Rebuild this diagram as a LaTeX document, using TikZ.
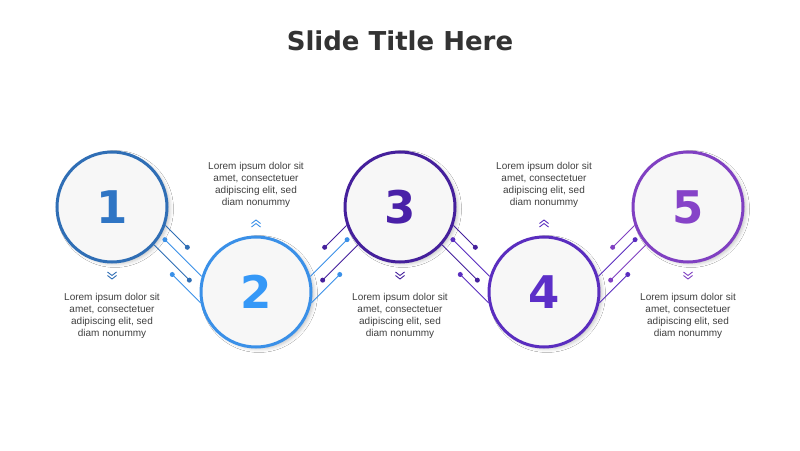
\documentclass[tikz,border=0pt]{standalone}
\usepackage{fontspec}
\setmainfont{Liberation Sans}
\newfontfamily\headfont{DejaVu Sans}
\usetikzlibrary{shadows.blur}

\definecolor{col1}{HTML}{2F6EB5}
\definecolor{col2}{HTML}{3A90E8}
\definecolor{col3}{HTML}{45209C}
\definecolor{col4}{HTML}{5A2DBF}
\definecolor{col5}{HTML}{8040C2}
\definecolor{num1}{HTML}{2F75C4}
\definecolor{num2}{HTML}{3598F7}
\definecolor{num3}{HTML}{4A21A8}
\definecolor{num4}{HTML}{5C2FC8}
\definecolor{num5}{HTML}{8643C8}
\definecolor{textgray}{HTML}{404040}
\definecolor{titlegray}{HTML}{333333}

\tikzset{
  stepcircle/.style={circle,minimum size=110pt,inner sep=0pt,line width=3pt,fill=black!3,
    font=\headfont\bfseries\fontsize{45}{45}\selectfont,
    blur shadow={shadow xshift=3pt,shadow yshift=-2pt,shadow blur radius=3.5pt,shadow opacity=22}},
  stepline/.style={line width=0.9pt},
  stepdot/.style={circle,fill,inner sep=0pt,minimum size=5pt},
  steptext/.style={align=center,text=textgray,font=\fontsize{10}{12}\selectfont},
  downchev/.pic={
    \draw[line width=0.9pt] (-4.5,3.5) -- (0,0) -- (4.5,3.5);
    \draw[line width=0.9pt] (-4.5,7) -- (0,3.5) -- (4.5,7);},
  upchev/.pic={
    \draw[line width=0.9pt] (-4.5,-3.5) -- (0,0) -- (4.5,-3.5);
    \draw[line width=0.9pt] (-4.5,-7) -- (0,-3.5) -- (4.5,-7);}
}

\begin{document}
\begin{tikzpicture}[x=1pt,y=1pt]
  \useasboundingbox[fill=white] (0,0) rectangle (800,450);

  \node[anchor=base,text=titlegray,font=\headfont\bfseries\fontsize{26}{30}\selectfont] (title) at (400,399) {Slide Title Here};

  % circles
  \node[stepcircle,draw=col1,text=num1] (c1) at (112,243) {1};
  \node[stepcircle,draw=col2,text=num2] (c2) at (256,158) {2};
  \node[stepcircle,draw=col3,text=num3] (c3) at (400,243) {3};
  \node[stepcircle,draw=col4,text=num4] (c4) at (544,158) {4};
  \node[stepcircle,draw=col5,text=num5] (c5) at (688,243) {5};

  % circuit lines 1-2
  \draw[stepline,col1] (c1.-19) -- ++(-45:31pt) node[stepdot] (d1a) {};
  \draw[stepline,col1] (c1.-42) -- ++(-45:50pt) node[stepdot] (d1b) {};
  \draw[stepline,col2] (c2.164) -- ++(135:52pt) node[stepdot] (d2a) {};
  \draw[stepline,col2] (c2.-169) -- ++(135:40pt) node[stepdot] (d2b) {};
  % circuit lines 2-3
  \draw[stepline,col3] (c3.199) -- ++(-135:31pt) node[stepdot] (d3a) {};
  \draw[stepline,col3] (c3.222) -- ++(-135:50pt) node[stepdot] (d3b) {};
  \draw[stepline,col2] (c2.16) -- ++(45:52pt) node[stepdot] (d2c) {};
  \draw[stepline,col2] (c2.-11) -- ++(45:40pt) node[stepdot] (d2d) {};
  % circuit lines 3-4
  \draw[stepline,col3] (c3.-19) -- ++(-45:31pt) node[stepdot] (d3c) {};
  \draw[stepline,col3] (c3.-42) -- ++(-45:50pt) node[stepdot] (d3d) {};
  \draw[stepline,col4] (c4.164) -- ++(135:52pt) node[stepdot] (d4a) {};
  \draw[stepline,col4] (c4.-169) -- ++(135:40pt) node[stepdot] (d4b) {};
  % circuit lines 4-5
  \draw[stepline,col5] (c5.199) -- ++(-135:31pt) node[stepdot] (d5a) {};
  \draw[stepline,col5] (c5.222) -- ++(-135:50pt) node[stepdot] (d5b) {};
  \draw[stepline,col4] (c4.16) -- ++(45:52pt) node[stepdot] (d4c) {};
  \draw[stepline,col4] (c4.-11) -- ++(45:40pt) node[stepdot] (d4d) {};

  % chevrons
  \pic[col1] at (112,171) {downchev};
  \pic[col2] at (256,230) {upchev};
  \pic[col3] at (400,171) {downchev};
  \pic[col4] at (544,230) {upchev};
  \pic[col5] at (688,171) {downchev};

  % texts
  \node[steptext] (t1) at (112,134.5) {Lorem ipsum dolor sit\\amet, consectetuer\\adipiscing elit, sed\\diam nonummy};
  \node[steptext] (t2) at (256,265.5) {Lorem ipsum dolor sit\\amet, consectetuer\\adipiscing elit, sed\\diam nonummy};
  \node[steptext] (t3) at (400,134.5) {Lorem ipsum dolor sit\\amet, consectetuer\\adipiscing elit, sed\\diam nonummy};
  \node[steptext] (t4) at (544,265.5) {Lorem ipsum dolor sit\\amet, consectetuer\\adipiscing elit, sed\\diam nonummy};
  \node[steptext] (t5) at (688,134.5) {Lorem ipsum dolor sit\\amet, consectetuer\\adipiscing elit, sed\\diam nonummy};
\end{tikzpicture}
\end{document}
